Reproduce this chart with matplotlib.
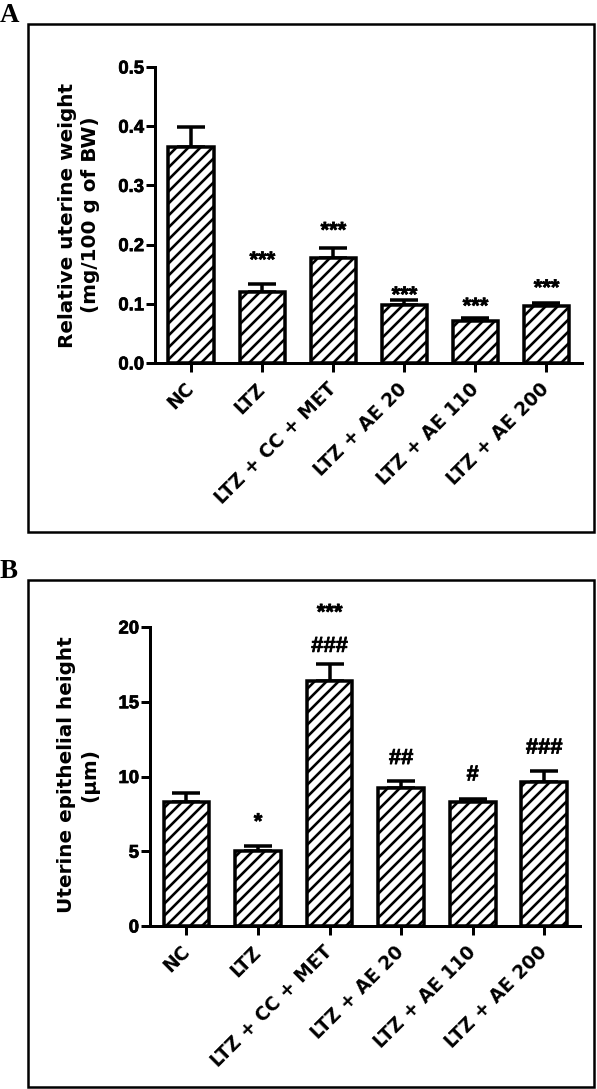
import matplotlib
matplotlib.use("Agg")
import matplotlib.pyplot as plt
import matplotlib.patheffects as pe
from matplotlib.patches import Rectangle

plt.rcParams["font.family"] = ["Liberation Sans", "DejaVu Sans"]
plt.rcParams["font.weight"] = "bold"
plt.rcParams["hatch.linewidth"] = 2.6
plt.rcParams["hatch.color"] = "black"

groups = ["NC", "LTZ", "LTZ + CC + MET", "LTZ + AE 20", "LTZ + AE 110", "LTZ + AE 200"]

# panel A: relative uterine weight (mg/100 g of BW)
weight_mean = [0.365, 0.120, 0.177, 0.098, 0.071, 0.096]
weight_sem = [0.034, 0.013, 0.017, 0.008, 0.005, 0.005]
weight_sig = ["", "***", "***", "***", "***", "***"]
weight_sig_y = [0, 0.172, 0.222, 0.113, 0.094, 0.125]
weight_ticks = [0.0, 0.1, 0.2, 0.3, 0.4, 0.5]

# panel B: uterine epithelial height (µm)
height_mean = [8.27, 5.05, 16.4, 9.2, 8.27, 9.6]
height_sem = [0.6, 0.3, 1.1, 0.53, 0.2, 0.8]
height_hash = ["", "", "###", "##", "#", "###"]
height_hash_y = [0, 0, 18.7, 11.2, 10.1, 11.9]
height_star = ["", "*", "***", "", "", ""]
height_star_y = [0, 6.9, 20.9, 0, 0, 0]
height_ticks = [0, 5, 10, 15, 20]

W, H, DPI = 597, 1089, 72
fig = plt.figure(figsize=(W / DPI, H / DPI), dpi=DPI)
THICK = [pe.withStroke(linewidth=0.7, foreground="black")]


def px_axes(left, top, right, bottom):
    return fig.add_axes([left / W, 1 - bottom / H, (right - left) / W, (bottom - top) / H])


def bar_panel(ax, mean, sem, ticks, ylim):
    x = list(range(len(groups)))
    ax.errorbar(x, mean, yerr=[[0] * len(sem), sem], fmt="none", ecolor="black",
                elinewidth=3.5, capsize=14, capthick=3.5, zorder=2)
    ax.bar(x, mean, width=0.64, facecolor="white", edgecolor="black",
           linewidth=3.5, hatch="//", zorder=3)
    ax.set_xlim(-0.51, 5.5)
    ax.set_ylim(*ylim)
    ax.set_yticks(ticks)
    ax.set_xticks(x)
    ax.set_xticklabels(groups, rotation=45, ha="right", va="center",
                       rotation_mode="anchor", fontsize=18, fontweight="bold",
                       family="DejaVu Sans")
    for s in ("top", "right"):
        ax.spines[s].set_visible(False)
    for s in ("left", "bottom"):
        ax.spines[s].set_linewidth(3)
    ax.tick_params(axis="both", width=3, length=9, direction="out",
                   labelsize=18.5, pad=2)
    ax.tick_params(axis="x", pad=14)
    for lab in ax.get_yticklabels():
        lab.set_path_effects(THICK)


def mark(ax, i, y, text):
    ax.text(i, y, text, ha="center", va="center", fontsize=22,
            fontweight="bold", clip_on=False, path_effects=THICK)


# ---- panel A
axA = px_axes(155, 67, 582, 363)
bar_panel(axA, weight_mean, weight_sem, weight_ticks, (0, 0.5))
axA.yaxis.set_major_formatter(matplotlib.ticker.FormatStrFormatter("%.1f"))
for i, (t, y) in enumerate(zip(weight_sig, weight_sig_y)):
    if t:
        mark(axA, i, y, t)
fig.text(79 / W, 1 - 215 / H, "Relative uterine weight\n(mg/100 g of BW)",
         rotation=90, ha="center", va="center", fontsize=20, fontweight="bold",
         family="DejaVu Sans", multialignment="center", linespacing=1.3)

# ---- panel B
axB = px_axes(150, 627, 580, 926)
bar_panel(axB, height_mean, height_sem, height_ticks, (0, 20))
for i in range(len(groups)):
    if height_hash[i]:
        mark(axB, i, height_hash_y[i], height_hash[i])
    if height_star[i]:
        mark(axB, i, height_star_y[i], height_star[i])
fig.text(78 / W, 1 - 775 / H, "Uterine epithelial height\n(µm)",
         rotation=90, ha="center", va="center", fontsize=20, fontweight="bold",
         family="DejaVu Sans", multialignment="center", linespacing=1.3)

# frames and panel letters
for top, bottom in ((24, 532), (580, 1087)):
    fig.add_artist(Rectangle((28 / W, 1 - bottom / H), 566 / W, (bottom - top) / H,
                             transform=fig.transFigure, fill=False,
                             edgecolor="black", linewidth=2.5))
fig.text(0 / W, 1 - 22 / H, "A", fontsize=27, fontweight="bold",
         family="Liberation Serif", ha="left", va="baseline")
fig.text(0 / W, 1 - 578 / H, "B", fontsize=27, fontweight="bold",
         family="Liberation Serif", ha="left", va="baseline")

fig.savefig("out.png", dpi=DPI, facecolor="white")
